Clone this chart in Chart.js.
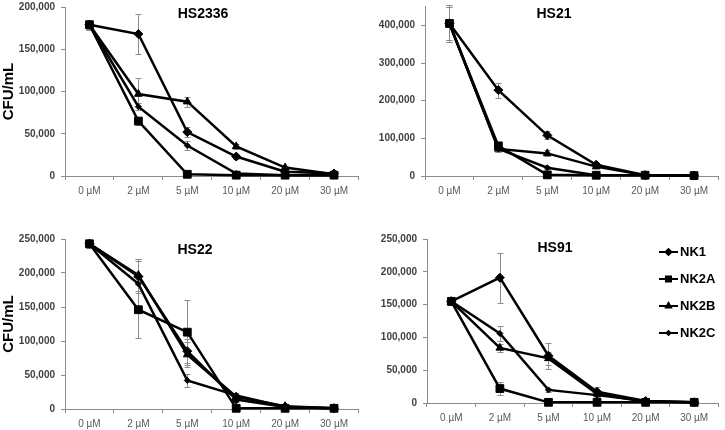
<!DOCTYPE html>
<html>
<head>
<meta charset="utf-8">
<script src="https://cdn.jsdelivr.net/npm/chart.js@4.4.0/dist/chart.umd.min.js"></script>
<style>
  body { margin: 0; background: #fff; }
  #wrap { position: relative; width: 725px; height: 430px; overflow: hidden; }
  canvas { position: absolute; }
</style>
</head>
<body>
<div id="wrap">
  <canvas id="c1" width="365" height="205" style="left:0;top:0"></canvas>
  <canvas id="c2" width="365" height="205" style="left:360px;top:0"></canvas>
  <canvas id="c3" width="365" height="215" style="left:0;top:215px"></canvas>
  <canvas id="c4" width="365" height="215" style="left:360px;top:215px"></canvas>
</div>
<script>
const categories = ['0 µM', '2 µM', '5 µM', '10 µM', '20 µM', '30 µM'];
const seriesNames = ['NK1', 'NK2A', 'NK2B', 'NK2C'];

// y tick values per panel
const hs2336Ticks = [0, 50000, 100000, 150000, 200000];
const hs21Ticks = [0, 100000, 200000, 300000, 400000];
const hs22Ticks = [0, 50000, 100000, 150000, 200000, 250000];
const hs91Ticks = [0, 50000, 100000, 150000, 200000, 250000];

// HS2336
const hs2336NK1 = [179000, 168000, 52000, 23000, 5000, 3000];
const hs2336NK2A = [179000, 65000, 2000, 1000, 1000, 1000];
const hs2336NK2B = [179000, 97000, 88000, 35000, 10000, 2000];
const hs2336NK2C = [179000, 82000, 36000, 3000, 1000, 1000];
const hs2336NK1Err = [6000, 24000, 6000, 3000, 1000, 1000];
const hs2336NK2AErr = [6000, 5000, 1000, 500, 500, 500];
const hs2336NK2BErr = [5000, 19000, 6000, 3000, 1500, 500];
const hs2336NK2CErr = [5000, 4000, 5000, 1000, 500, 500];

// HS21
const hs21NK1 = [405000, 228000, 108000, 30000, 2000, 1000];
const hs21NK2A = [405000, 80000, 3000, 2000, 2000, 1000];
const hs21NK2B = [405000, 72000, 60000, 25000, 2000, 1000];
const hs21NK2C = [405000, 72000, 22000, 2000, 2000, 1000];
const hs21NK1Err = [48000, 20000, 11000, 5000, 500, 500];
const hs21NK2AErr = [48000, 10000, 1000, 500, 500, 500];
const hs21NK2BErr = [45000, 8000, 8000, 4000, 500, 500];
const hs21NK2CErr = [45000, 8000, 4000, 500, 500, 500];

// HS22
const hs22NK1 = [243000, 195000, 85000, 14000, 3000, 1000];
const hs22NK2A = [243000, 146000, 113000, 1000, 1000, 1000];
const hs22NK2B = [243000, 197000, 80000, 18000, 4000, 1000];
const hs22NK2C = [243000, 184000, 42000, 20000, 3000, 1000];
const hs22NK1Err = [6000, 25000, 18000, 3000, 1000, 500];
const hs22NK2AErr = [6000, 41000, 48000, 500, 500, 500];
const hs22NK2BErr = [6000, 23000, 18000, 3000, 1000, 500];
const hs22NK2CErr = [6000, 33000, 10000, 3000, 1000, 500];

// HS91
const hs91NK1 = [155000, 191000, 72000, 17000, 3000, 1000];
const hs91NK2A = [155000, 22000, 1000, 1000, 1000, 1000];
const hs91NK2B = [155000, 84000, 68000, 14000, 2000, 1000];
const hs91NK2C = [155000, 106000, 20000, 12000, 3000, 1000];
const hs91NK1Err = [5000, 38000, 20000, 8000, 1000, 500];
const hs91NK2AErr = [5000, 10000, 500, 500, 500, 500];
const hs91NK2BErr = [5000, 6000, 10000, 4000, 1000, 500];
const hs91NK2CErr = [5000, 12000, 3000, 3000, 1000, 500];

const FONT = "'Liberation Sans', Arial, sans-serif";
const markers = [
  { pointStyle: 'rectRot', pointRadius: 4.5 },
  { pointStyle: 'rect', pointRadius: 5.5 },
  { pointStyle: 'triangle', pointRadius: 4.5 },
  { pointStyle: 'rectRot', pointRadius: 3 }
];

const errorBars = {
  id: 'errorBars',
  beforeDatasetsDraw(chart) {
    const ctx = chart.ctx;
    const y = chart.scales.y;
    ctx.save();
    ctx.strokeStyle = '#8c8c8c';
    ctx.lineWidth = 1;
    chart.data.datasets.forEach((ds, i) => {
      chart.getDatasetMeta(i).data.forEach((pt, j) => {
        const e = ds.errors[j];
        if (!e) return;
        const px = Math.round(pt.x) + 0.5;
        const top = Math.round(y.getPixelForValue(ds.data[j] + e)) + 0.5;
        const bot = Math.round(y.getPixelForValue(Math.max(0, ds.data[j] - e))) + 0.5;
        ctx.beginPath();
        ctx.moveTo(px, top); ctx.lineTo(px, bot);
        ctx.moveTo(px - 3, top); ctx.lineTo(px + 3, top);
        ctx.moveTo(px - 3, bot); ctx.lineTo(px + 3, bot);
        ctx.stroke();
      });
    });
    ctx.restore();
  }
};

const panelTitle = {
  id: 'panelTitle',
  afterDraw(chart, args, opts) {
    const ctx = chart.ctx;
    ctx.save();
    ctx.font = 'bold 14px ' + FONT;
    ctx.fillStyle = '#000';
    ctx.textAlign = 'center';
    ctx.textBaseline = 'middle';
    ctx.fillText(opts.text, opts.x, opts.y);
    ctx.restore();
  }
};

const sideLegend = {
  id: 'sideLegend',
  afterDraw(chart, args, opts) {
    if (!opts.show) return;
    const ctx = chart.ctx;
    ctx.save();
    chart.data.datasets.forEach((ds, i) => {
      const yy = opts.y + i * opts.gap;
      ctx.strokeStyle = '#000';
      ctx.fillStyle = '#000';
      ctx.lineWidth = 2;
      ctx.beginPath();
      ctx.moveTo(opts.x, yy); ctx.lineTo(opts.x + 19, yy);
      ctx.stroke();
      Chart.helpers.drawPoint(ctx, {
        pointStyle: ds.pointStyle, radius: ds.pointRadius * 0.65, rotation: 0, borderWidth: 1
      }, opts.x + 9.5, yy);
      ctx.font = 'bold 13px ' + FONT;
      ctx.textAlign = 'left';
      ctx.textBaseline = 'middle';
      ctx.fillText(ds.label, opts.x + 21, yy);
    });
    ctx.restore();
  }
};

function makePanel(id, cfg) {
  const datasets = cfg.series.map((data, i) => ({
    label: seriesNames[i],
    data: data,
    errors: cfg.errors[i],
    borderColor: '#000',
    backgroundColor: '#000',
    pointBackgroundColor: '#000',
    pointBorderColor: '#000',
    borderWidth: 2.5,
    pointBorderWidth: 1,
    tension: 0,
    clip: false,
    ...markers[i]
  }));
  new Chart(document.getElementById(id), {
    type: 'line',
    data: { labels: categories, datasets: datasets },
    plugins: [errorBars, panelTitle, sideLegend],
    options: {
      responsive: false,
      animation: false,
      events: [],
      layout: { padding: { top: cfg.padTop, right: 0, left: 0, bottom: 0 } },
      plugins: {
        legend: { display: false },
        tooltip: { enabled: false },
        panelTitle: { text: cfg.title, x: cfg.titleX, y: cfg.titleY },
        sideLegend: cfg.legend || { show: false }
      },
      scales: {
        x: {
          offset: true,
          grid: { drawOnChartArea: false, drawTicks: true, tickLength: 4, color: '#8c8c8c', offset: true },
          border: { color: '#8c8c8c', width: 1 },
          ticks: {
            autoSkip: false, maxRotation: 0, padding: 5,
            color: '#595959', font: { family: FONT, size: 10 }
          },
          afterFit(s) { s.height = cfg.xHeight; s.paddingLeft = 0; s.paddingRight = 0; }
        },
        y: {
          min: 0,
          max: cfg.yMax,
          grid: { drawOnChartArea: false, drawTicks: true, tickLength: 4, color: '#8c8c8c' },
          border: { color: '#8c8c8c', width: 1 },
          ticks: {
            padding: 6,
            color: '#404040', font: { family: FONT, size: 10, weight: 'bold' },
            callback: v => v.toLocaleString('en-US')
          },
          afterBuildTicks(s) { s.ticks = cfg.yTicks.map(v => ({ value: v })); },
          title: {
            display: !!cfg.yTitle, text: 'CFU/mL', color: '#000',
            font: { family: FONT, size: 15, weight: 'bold' }, padding: { top: 0, bottom: 0 }
          },
          afterFit(s) { s.width = cfg.yWidth; s.paddingTop = 0; s.paddingBottom = 0; }
        }
      }
    }
  });
}

makePanel('c1', {
  title: 'HS2336', titleX: 203, titleY: 14, yTitle: true,
  series: [hs2336NK1, hs2336NK2A, hs2336NK2B, hs2336NK2C],
  errors: [hs2336NK1Err, hs2336NK2AErr, hs2336NK2BErr, hs2336NK2CErr],
  yMax: 200000, yTicks: hs2336Ticks, yWidth: 65, xHeight: 29, padTop: 7
});
makePanel('c2', {
  title: 'HS21', titleX: 194, titleY: 14,
  series: [hs21NK1, hs21NK2A, hs21NK2B, hs21NK2C],
  errors: [hs21NK1Err, hs21NK2AErr, hs21NK2BErr, hs21NK2CErr],
  yMax: 450000, yTicks: hs21Ticks, yWidth: 65, xHeight: 29, padTop: 2
});
makePanel('c3', {
  title: 'HS22', titleX: 195, titleY: 35, yTitle: true,
  series: [hs22NK1, hs22NK2A, hs22NK2B, hs22NK2C],
  errors: [hs22NK1Err, hs22NK2AErr, hs22NK2BErr, hs22NK2CErr],
  yMax: 250000, yTicks: hs22Ticks, yWidth: 65, xHeight: 21, padTop: 24
});
makePanel('c4', {
  title: 'HS91', titleX: 195, titleY: 33,
  series: [hs91NK1, hs91NK2A, hs91NK2B, hs91NK2C],
  errors: [hs91NK1Err, hs91NK2AErr, hs91NK2BErr, hs91NK2CErr],
  yMax: 250000, yTicks: hs91Ticks, yWidth: 67, xHeight: 27, padTop: 24,
  legend: { show: true, x: 299, y: 37, gap: 27 }
});
</script>
</body>
</html>
